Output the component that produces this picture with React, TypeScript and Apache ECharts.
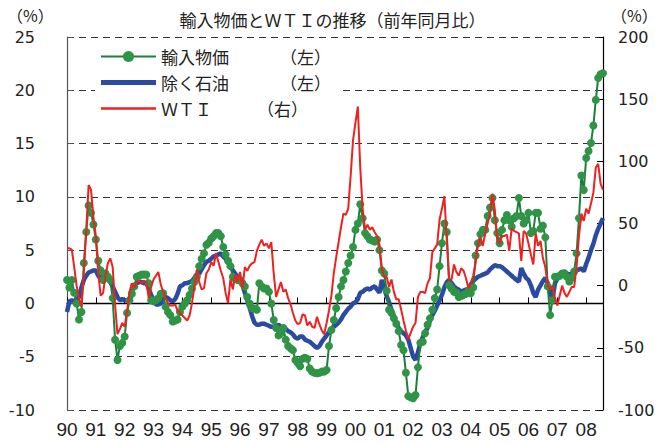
import React, { useEffect, useRef } from "react";
import * as echarts from "echarts";

const YEAR_LABELS = ["90","91","92","93","94","95","96","97","98","99","00","01","02","03","04","05","06","07","08"];
const MONTHS_IN_LAST_YEAR = 8;
const MONTHS: string[] = [];
YEAR_LABELS.forEach((y, k) => {
  const n = k === YEAR_LABELS.length - 1 ? MONTHS_IN_LAST_YEAR : 12;
  for (let m = 1; m <= n; m++) MONTHS.push(`${y}/${m}`);
});

// 輸入物価 (左, %)
const IMPORT_PRICE = [
  2.2, 1.5, 2.2, 1.0, 0.0, -1.5, -0.8, 3.8, 6.7, 9.2, 8.5, 7.4,
  6.0, 4.0, 3.1, 2.2, 2.8, 2.5, 2.2, 0.5, -3.4, -5.3, -4.0, -3.7,
  -3.1, -0.9, 0.3, 0.9, 1.6, 2.5, 2.6, 2.7, 2.7, 2.7, 1.9, 0.3,
  0.2, 0.3, 0.5, 0.9, 0.95, -0.3, -0.8, -1.1, -1.7, -1.6, -1.5, -0.8,
  -0.3, 0.0, 0.3, 0.8, 1.4, 2.0, 2.5, 3.5, 4.2, 4.7, 5.5, 5.7,
  6.1, 6.3, 6.6, 6.6, 6.3, 5.3, 4.6, 4.0, 3.5, 2.5, 2.3, 2.2,
  2.2, 1.9, 1.6, 0.6, 0.0, -0.45, -0.5, -0.6, 1.9, 1.6, 1.4, 1.4,
  1.1, 0.0, -1.55, -2.3, -3.0, -2.8, -2.3, -3.4, -4.0, -4.2, -4.4, -5.3,
  -5.6, -5.9, -5.2, -5.1, -5.2, -6.1, -6.4, -6.5, -6.55, -6.5, -6.4, -6.4,
  -6.25, -4.0, -2.5, -1.55, -0.45, 0.6, 1.6, 2.2, 3.0, 3.8, 4.5, 5.3,
  6.9, 7.5, 9.3, 8.0, 6.6, 6.3, 6.0, 5.9, 5.8, 6.0, 5.0, 3.1,
  2.8, 1.2, -0.6, -0.9, -1.4, -1.9, -2.6, -3.9, -4.4, -6.5, -8.7, -8.8,
  -8.9, -8.6, -6.0, -3.7, -3.6, -2.8, -2.0, -1.4, -0.6, 0.5, 1.3, 3.5,
  5.65, 7.5, 6.7, 1.7, 1.4, 1.1, 1.0, 0.6, 0.7, 0.8, 0.9, 1.2,
  0.95, 1.5, 4.5, 5.65, 6.5, 6.9, 6.9, 8.2, 9.0, 9.9, 7.8, 6.6,
  5.65, 6.9, 7.8, 8.3, 7.8, 7.2, 8.0, 8.2, 9.9, 8.2, 7.5, 7.8,
  8.5, 6.6, 6.8, 8.5, 8.5, 7.0, 7.3, 6.2, 1.6, -1.1, 0.3, 2.5,
  2.5, 2.6, 2.8, 2.8, 2.5, 2.05, 2.4, 3.0, 4.7, 8.0, 12.0, 10.65,
  13.65, 14.3, 15.05, 16.7, 19.1, 21.15, 21.5, 21.6,
];

// 除く石油 (左, %)
const EX_OIL = [
  -0.8, 0.2, 0.3, 0.2, 0.4, 0.6, 1.5, 2.2, 2.6, 2.9, 3.0, 3.1,
  3.1, 2.6, 2.3, 2.2, 2.3, 2.3, 2.0, 1.6, 1.1, 0.6, 0.3, 0.4,
  0.3, 0.3, 0.2, 1.1, 1.6, 1.9, 2.0, 2.0, 1.9, 1.9, 1.4, 0.8,
  0.3, -0.1, -0.1, 0.0, 0.5, 0.6, 0.5, 0.3, 0.2, 0.4, 0.9, 1.6,
  1.7, 1.9, 1.9, 2.0, 2.1, 2.4, 2.7, 2.8, 3.2, 3.6, 3.9, 4.0,
  4.2, 4.4, 4.5, 4.6, 4.7, 4.4, 4.2, 3.8, 3.5, 3.1, 2.8, 2.5,
  2.2, 1.7, 1.0, 0.3, -0.4, -1.2, -1.8, -2.0, -2.0, -1.9, -1.9, -2.0,
  -2.1, -2.2, -2.2, -2.1, -2.0, -2.2, -2.3, -2.4, -2.6, -2.7, -2.9, -3.2,
  -3.3, -3.1, -3.1, -3.4, -3.5, -3.6, -3.8, -4.0, -4.2, -4.0, -3.6, -3.3,
  -3.0, -2.7, -2.4, -2.2, -2.0, -1.8, -1.5, -1.1, -0.8, -0.5, -0.3, 0.0,
  0.1, 0.4, 1.0, 1.1, 1.3, 1.4, 1.3, 1.5, 1.6, 1.3, 1.0, 2.2,
  1.4, 0.7, 0.1, -0.6, -1.2, -1.9, -2.3, -2.6, -2.8, -3.0, -3.4, -4.2,
  -5.0, -5.3, -4.6, -3.7, -3.2, -2.7, -2.3, -1.6, -1.1, -0.7, -0.2, 0.3,
  0.8, 1.5, 2.0, 2.2, 1.9, 1.6, 1.4, 1.3, 1.1, 1.2, 1.3, 1.4,
  1.8, 2.1, 2.3, 2.5, 2.6, 2.7, 2.8, 2.9, 3.2, 3.4, 3.6, 3.5,
  3.5, 3.4, 3.2, 3.0, 2.8, 2.6, 2.4, 2.2, 2.05, 3.3, 2.8, 2.4,
  2.2, 1.7, 1.0, 0.6, 1.3, 1.7, 2.1, 2.4, 1.9, 1.0, 0.4, 1.9,
  2.3, 2.6, 2.9, 3.0, 2.8, 2.7, 2.8, 3.0, 3.1, 3.2, 3.3, 3.0,
  3.7, 4.3, 5.0, 5.6, 6.4, 7.0, 7.5, 8.0,
];

// ＷＴＩ (右, %)
const WTI = [
  30, 30, 29, 15, 0, -10, -17, 10, 45, 81, 77, 55,
  40, 10, -8, -6, 8, 18, 22, 15, -15, -39, -35, -30,
  -33, -20, -5, 2, -2, 3, 4, 2, 4, 3, -10, -1,
  5, 8, 11, 1, -5, -10, -14, -16, -16, -15, -20, -22,
  -24, -26, -28, -24, -14, -1, 13, 3, -3, -2, 10, 13,
  19, 16, 26, 19, 12, 6, -6, -14, 5, -3, 9, 3,
  11, -2, 15, 12, 16, 18, 19, 28, 33, 37, 32, 34,
  30, 35, 10, -9, -3, 3, -5, -3, -10, -15, -22, -28,
  -31, -30, -23, -24, -32, -29, -33, -34, -25, -31, -36, -39,
  -30, -20, -8, 10, 23, 35, 47, 58, 57, 62, 88, 117,
  131, 144, 95, 62, 45, 49, 45, 47, 43, 40, 33, 14,
  7, 7, -1, 5, -5, -11, -11, -19, -28, -36, -43, -38,
  -33, -30, -9, -5, -5, -6, 2, 6, 27, 30, 33, 53,
  62, 72, 37, 5, 5, 17, 11, 8, 14, 12, 6, -2,
  2, 8, 18, 33, 39, 32, 42, 50, 58, 74, 61, 36,
  34, 40, 40, 41, 28, 46, 44, 43, 42, 20, 44, 42,
  34, 25, 17, 42, 32, 36, 22, 15, 0, -3, 0, -10,
  -16, -8, 0, -6, -9, -5, -1, -1, 15, 40, 58, 52,
  62, 58, 66, 75, 95, 98, 82, 77,
];

const TITLE = "輸入物価とＷＴＩの推移（前年同月比）";
const UNIT = "（%）";
const NAME_IMPORT = "輸入物価";
const NAME_EXOIL = "除く石油";
const NAME_WTI = "ＷＴＩ";

const CJK = '"Noto Sans CJK JP", sans-serif';

export default function App() {
  const ref = useRef<HTMLDivElement>(null);
  useEffect(() => {
    if (!ref.current) return;
    const chart = echarts.init(ref.current, undefined, { renderer: "svg" });
    const yearTick = (i: number) => i % 12 === 0;
    chart.setOption({
      animation: false,
      backgroundColor: "#ffffff",
      title: {
        text: TITLE,
        left: "center",
        top: 6,
        textStyle: { fontSize: 17, fontWeight: "normal", color: "#222", fontFamily: CJK },
      },
      graphic: [
        { type: "text", left: 7, top: 7, style: { text: UNIT, font: `16px ${CJK}`, fill: "#222" } },
        { type: "text", left: 611, top: 7, style: { text: UNIT, font: `16px ${CJK}`, fill: "#222" } },
      ],
      legend: {
        orient: "vertical",
        left: 95,
        top: 44,
        padding: [4, 8, 4, 5],
        backgroundColor: "#ffffff",
        itemWidth: 55,
        itemHeight: 14,
        itemGap: 9,
        data: [
          { name: NAME_IMPORT },
          { name: NAME_EXOIL, icon: "path://M0,0 L55,0 L55,5 L0,5 Z" },
          { name: NAME_WTI, icon: "path://M0,0 L55,0 L55,2.5 L0,2.5 Z" },
        ],
        formatter: (name: string) =>
          name === NAME_WTI ? `{w|${name}}{p|（右）}` : `{n|${name}}{p|（左）}`,
        textStyle: {
          fontSize: 17,
          color: "#222",
          fontFamily: CJK,
          rich: {
            n: { width: 119, fontSize: 17, fontFamily: CJK, color: "#222", lineHeight: 20 },
            w: { width: 96, fontSize: 17, fontFamily: CJK, color: "#222", lineHeight: 20 },
            p: { fontSize: 17, fontFamily: CJK, color: "#222", lineHeight: 20 },
          },
        },
      },
      grid: { left: 67, right: 62, top: 37, bottom: 34 },
      xAxis: [
        {
          type: "category",
          data: MONTHS,
          boundaryGap: false,
          position: "bottom",
          axisLine: { show: false, onZero: false },
          axisTick: { show: false },
          axisLabel: {
            interval: (i: number) => yearTick(i),
            formatter: (v: string) => v.split("/")[0],
            margin: 10,
            fontSize: 19,
            fontFamily: "Liberation Sans",
            color: "#222",
          },
          splitLine: { show: false },
        },
        {
          type: "category",
          data: MONTHS,
          boundaryGap: false,
          position: "bottom",
          axisLine: { show: true, onZero: true, onZeroAxisIndex: 0, lineStyle: { color: "#000", width: 1.3 } },
          axisTick: { show: true, inside: true, length: 6, interval: (i: number) => yearTick(i), lineStyle: { color: "#000" } },
          axisLabel: { show: false },
          splitLine: { show: false },
        },
      ],
      yAxis: [
        {
          type: "value",
          min: -10,
          max: 25,
          interval: 5,
          position: "left",
          axisLine: { show: true, lineStyle: { color: "#555", width: 1.2 } },
          axisTick: { show: true, inside: true, length: 6, lineStyle: { color: "#555" } },
          axisLabel: { margin: 32, fontSize: 16, color: "#222", fontFamily: "DejaVu Sans" },
          splitLine: { show: true, lineStyle: { type: [7, 5], color: "#333", width: 1 } },
        },
        {
          type: "value",
          min: -100,
          max: 200,
          interval: 50,
          position: "right",
          axisLine: { show: true, lineStyle: { color: "#000", width: 1.2 } },
          axisTick: { show: true, inside: true, length: 6, lineStyle: { color: "#000" } },
          axisLabel: { margin: 15, fontSize: 16, color: "#222", fontFamily: "DejaVu Sans" },
          splitLine: { show: false },
        },
      ],
      series: [
        {
          name: NAME_EXOIL,
          type: "line",
          data: EX_OIL,
          yAxisIndex: 0,
          symbol: "none",
          lineStyle: { width: 4.5, color: "#2b4ba3" },
          itemStyle: { color: "#2b4ba3" },
          z: 2,
        },
        {
          name: NAME_IMPORT,
          type: "line",
          data: IMPORT_PRICE,
          yAxisIndex: 0,
          symbol: "circle",
          symbolSize: 8,
          showSymbol: true,
          showAllSymbol: true,
          lineStyle: { width: 2, color: "#1d7f3c" },
          itemStyle: { color: "#2f9446" },
          z: 3,
        },
        {
          name: NAME_WTI,
          type: "line",
          data: WTI,
          yAxisIndex: 1,
          symbol: "none",
          lineStyle: { width: 2, color: "#ee2020" },
          itemStyle: { color: "#ee2020" },
          z: 4,
        },
      ],
    });
    return () => chart.dispose();
  }, []);
  return (
    <div
      ref={ref}
      style={{ position: "absolute", left: 0, top: 0, width: 665, height: 444 }}
    />
  );
}
